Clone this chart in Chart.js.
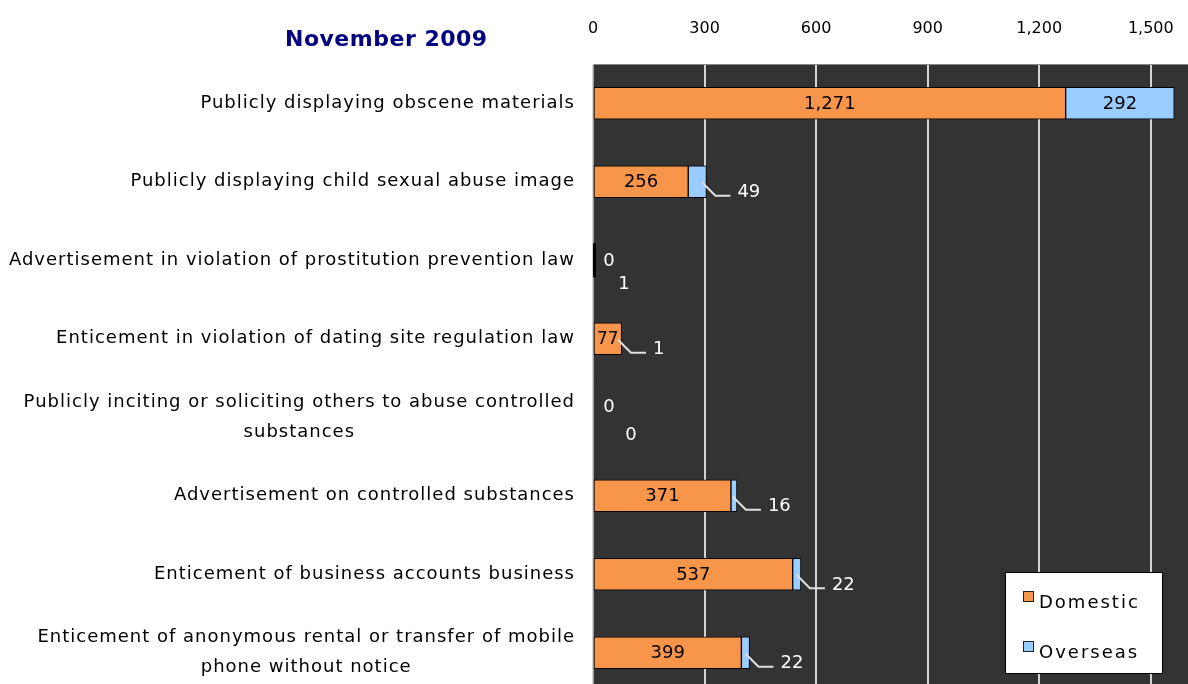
<!DOCTYPE html>
<html>
<head>
<meta charset="utf-8">
<script src="https://cdn.jsdelivr.net/npm/chart.js@4"></script>
<style>
  html, body { margin: 0; padding: 0; background: #fff; overflow: hidden; }
  #wrap { width: 1188px; height: 692px; }
</style>
</head>
<body>
<div id="wrap"><canvas id="chart" width="1188" height="692"></canvas></div>
<script>
// November 2009 - illegal information reports, domestic vs overseas

const title = 'November 2009';

const categories = [
  ['Publicly displaying obscene materials'],
  ['Publicly displaying child sexual abuse image'],
  ['Advertisement in violation of prostitution prevention law'],
  ['Enticement in violation of dating site regulation law'],
  ['Publicly inciting or soliciting others to abuse controlled', 'substances'],
  ['Advertisement on controlled substances'],
  ['Enticement of business accounts business'],
  ['Enticement of anonymous rental or transfer of mobile', 'phone without notice']
];

const domestic = [1271, 256, 0, 77, 0, 371, 537, 399];
const overseas = [292, 49, 1, 1, 0, 16, 22, 22];

const xTicks = [0, 300, 600, 900, 1200, 1500];

const ORANGE = '#F7964A';
const BLUE = '#99CCFF';
const FONT = '"DejaVu Sans", sans-serif';

const fmt = v => v.toLocaleString('en-US');

const decor = {
  id: 'decor',
  beforeDraw(chart) {
    const { ctx, chartArea: a } = chart;
    ctx.save();
    ctx.fillStyle = '#333333';
    ctx.fillRect(a.left, a.top, a.right - a.left, a.bottom - a.top);
    ctx.restore();
  },
  afterDraw(chart) {
    const { ctx, chartArea: a } = chart;
    const yScale = chart.scales.y;
    ctx.save();

    // title
    ctx.font = 'bold 22px ' + FONT;
    ctx.letterSpacing = '0.5px';
    ctx.fillStyle = '#000080';
    ctx.textAlign = 'left';
    ctx.textBaseline = 'middle';
    ctx.fillText(title, 285, 40);

    // category labels, block right aligned, lines centred
    ctx.font = '18px ' + FONT;
    ctx.letterSpacing = '1px';
    ctx.fillStyle = '#000';
    ctx.textAlign = 'center';
    categories.forEach((lines, i) => {
      const yc = yScale.getPixelForTick(i);
      const w = Math.max(...lines.map(l => ctx.measureText(l).width));
      const cx = a.left - 18 - w / 2;
      lines.forEach((l, k) => {
        ctx.fillText(l, cx, yc + (k - (lines.length - 1) / 2) * 30);
      });
    });
    ctx.letterSpacing = '0px';

    // value labels
    const m0 = chart.getDatasetMeta(0), m1 = chart.getDatasetMeta(1);
    domestic.forEach((v, i) => {
      const b0 = m0.data[i], b1 = m1.data[i];
      const yc = b0.y;
      const o = overseas[i];
      ctx.textBaseline = 'middle';
      ctx.textAlign = 'center';

      if (v > 0) {
        const segW = b0.x - b0.base;
        let fs = 18;
        ctx.font = fs + 'px ' + FONT;
        while (ctx.measureText(fmt(v)).width > segW - 6 && fs > 10) {
          fs--;
          ctx.font = fs + 'px ' + FONT;
        }
        ctx.fillStyle = '#000';
        ctx.fillText(fmt(v), (b0.x + b0.base) / 2, yc + 1);
      } else {
        ctx.font = '18px ' + FONT;
        ctx.fillStyle = '#fff';
        ctx.fillText(fmt(v), a.left + 16, yc + (o ? 1 : -10));
        if (o > 0) {
          // thin outline of a near-zero stack, as in the source
          ctx.fillStyle = '#000';
          ctx.fillRect(a.left, yc - 17, 3, 34);
        }
      }

      ctx.font = '18px ' + FONT;
      const segW1 = b1.x - b1.base;
      if (segW1 > 40) {
        ctx.fillStyle = '#000';
        ctx.fillText(fmt(o), (b1.x + b1.base) / 2, yc + 1);
      } else if (v > 0) {
        const ex = b1.x;
        ctx.strokeStyle = '#e0e0e0';
        ctx.lineWidth = 2;
        ctx.beginPath();
        ctx.moveTo(ex - 4, yc + 1);
        ctx.lineTo(ex + 9, yc + 14);
        ctx.lineTo(ex + 24, yc + 14);
        ctx.stroke();
        ctx.fillStyle = '#fff';
        ctx.textAlign = 'left';
        ctx.fillText(fmt(o), ex + 31, yc + 11);
      } else {
        ctx.fillStyle = '#fff';
        ctx.fillText(fmt(o), a.left + (o ? 31 : 38), yc + (o ? 24 : 18));
      }
    });

    // legend box
    const lx = a.right - 183, ly = a.bottom - 120;
    ctx.fillStyle = '#fff';
    ctx.fillRect(lx, ly, 157, 101);
    ctx.strokeStyle = '#000';
    ctx.lineWidth = 1;
    ctx.strokeRect(lx + 0.5, ly + 0.5, 157, 101);
    ctx.font = '18px ' + FONT;
    ctx.letterSpacing = '2px';
    ctx.textAlign = 'left';
    chart.data.datasets.forEach((ds, k) => {
      const yy = ly + 31 + k * 50;
      ctx.fillStyle = ds.backgroundColor;
      ctx.fillRect(lx + 18, yy - 12, 11, 11);
      ctx.strokeStyle = '#222';
      ctx.strokeRect(lx + 18.5, yy - 11.5, 10, 10);
      ctx.fillStyle = '#000';
      ctx.fillText(ds.label, lx + 34, yy);
    });
    ctx.restore();
  }
};

new Chart(document.getElementById('chart'), {
  type: 'bar',
  data: {
    labels: categories,
    datasets: [
      { label: 'Domestic', data: domestic, backgroundColor: ORANGE, borderColor: '#000',
        borderWidth: 1, borderSkipped: false, barThickness: 32 },
      { label: 'Overseas', data: overseas, backgroundColor: BLUE, borderColor: '#000',
        borderWidth: 1, borderSkipped: false, barThickness: 32 }
    ]
  },
  options: {
    indexAxis: 'y',
    responsive: false,
    animation: false,
    layout: { padding: 0 },
    plugins: { legend: { display: false }, tooltip: { enabled: false } },
    scales: {
      x: {
        position: 'top',
        stacked: true,
        min: 0,
        max: 1600,
        afterBuildTicks: s => { s.ticks = xTicks.map(v => ({ value: v })); },
        afterFit: s => { s.height = 64; s.paddingLeft = 0; s.paddingRight = 0; },
        ticks: { padding: 26, color: '#000', maxRotation: 0, font: { family: 'DejaVu Sans', size: 16 },
                 callback: v => fmt(v) },
        grid: { color: '#d4d4d4', lineWidth: 2, drawTicks: false },
        border: { color: '#888', width: 1 }
      },
      y: {
        stacked: true,
        afterFit: s => { s.width = 593; },
        ticks: { display: false },
        grid: { display: false },
        border: { color: '#999', width: 1 }
      }
    }
  },
  plugins: [decor]
});
</script>
</body>
</html>
